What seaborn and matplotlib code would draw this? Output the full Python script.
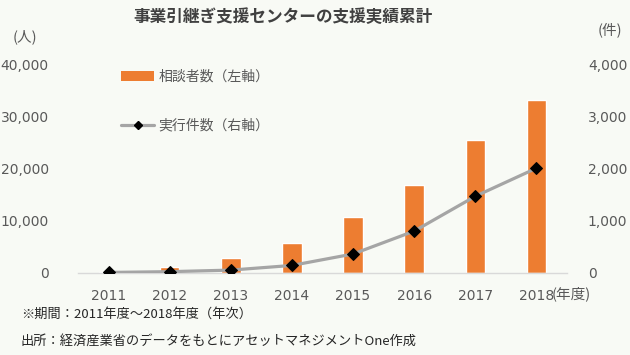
import matplotlib
matplotlib.use("Agg")
import matplotlib.pyplot as plt
import matplotlib.ticker as mticker
from matplotlib.lines import Line2D
from matplotlib.patches import Patch
import seaborn as sns
import pandas as pd
import numpy as np

years = ["2011", "2012", "2013", "2014", "2015", "2016", "2017", "2018"]
consultations = [100, 1100, 2800, 5700, 10700, 16800, 25500, 33200]   # 相談者数（左軸）
executions = [5, 20, 50, 140, 360, 800, 1470, 2010]                  # 実行件数（右軸）

title = "事業引継ぎ支援センターの支援実績累計"
bar_label = "相談者数（左軸）"
line_label = "実行件数（右軸）"
note1 = "※期間：2011年度～2018年度（年次）"
note2 = "出所：経済産業省のデータをもとにアセットマネジメントOne作成"

sns.set_theme(style="white")
plt.rcParams["font.family"] = ["Noto Sans CJK JP", "DejaVu Sans"]

bg = "#f8faf5"
txt = "#595959"
orange = "#ED7D31"
gray = "#A5A5A5"

df = pd.DataFrame({"year": years, "pos": np.arange(len(years)),
                   "consult": consultations, "exec": executions})

fig = plt.figure(figsize=(6.3, 3.55), dpi=100, facecolor=bg)
ax = fig.add_axes([78/630, 1 - 272.7/355, 489/630, 208/355])
ax.set_facecolor(bg)

sns.barplot(data=df, x="pos", y="consult", color=orange, width=0.32,
            saturation=1, ax=ax, zorder=2)
ax.set_xlim(-0.5, len(years) - 0.5)
ax.set_ylim(0, 40000)
ax.yaxis.set_major_locator(mticker.MultipleLocator(10000))
ax.yaxis.set_major_formatter(mticker.FuncFormatter(lambda v, p: f"{int(v):,}"))
ax.set_xticks(range(len(years)))
ax.set_xticklabels(years)
ax.set_xlabel("")
ax.set_ylabel("")

ax2 = ax.twinx()
sns.lineplot(data=df, x="pos", y="exec", ax=ax2, color=gray, linewidth=2.3,
             marker="D", markersize=6, markerfacecolor="black",
             markeredgecolor="black", zorder=3)
ax2.set_ylim(0, 4000)
ax2.yaxis.set_major_locator(mticker.MultipleLocator(1000))
ax2.yaxis.set_major_formatter(mticker.FuncFormatter(lambda v, p: f"{int(v):,}"))
ax2.set_xlim(-0.5, len(years) - 0.5)
ax2.set_ylabel("")
ax2.set_xlabel("")

for a in (ax, ax2):
    for s in a.spines.values():
        s.set_visible(False)
    a.tick_params(length=0, colors=txt, labelsize=10, labelfontfamily="DejaVu Sans")
ax.spines["bottom"].set_visible(True)
ax.spines["bottom"].set_color("#d9d9d9")
ax.spines["bottom"].set_linewidth(1)
ax.tick_params(axis="y", pad=21)
ax.tick_params(axis="x", pad=12)
ax2.tick_params(axis="y", pad=15)
ax2.get_xaxis().set_visible(False)

fig.text(282.5/630, 1 - 17/355, title, ha="center", va="center",
         fontsize=12, fontweight="bold", color="#404040")
fig.text(13/630, 1 - 37/355, "(人)", ha="left", va="center", fontsize=10.5, color=txt)
fig.text(622/630, 1 - 30/355, "(件)", ha="right", va="center", fontsize=10.5, color=txt)
fig.text(552/630, 1 - 294/355, "(年度)", ha="left", va="center", fontsize=10.5, color=txt)
fig.text(21/630, 1 - 314/355, note1, ha="left", va="center", fontsize=9.5, color="#262626")
fig.text(21/630, 1 - 341/355, note2, ha="left", va="center", fontsize=9.5, color="#262626")

handles = [Patch(facecolor=orange, edgecolor="none"),
           Line2D([0], [0], color=gray, linewidth=2.3, marker="D",
                  markersize=4.5, markerfacecolor="black", markeredgecolor="black")]
leg = fig.legend(handles, [bar_label, line_label], loc="upper left",
                 bbox_to_anchor=(121/630, 1 - 70/355), frameon=False,
                 fontsize=10, labelcolor=txt, handlelength=2.4, handleheight=0.7,
                 handletextpad=0.3, labelspacing=2.5, borderpad=0, borderaxespad=0)

fig.savefig("out.png", dpi=100, facecolor=bg)
